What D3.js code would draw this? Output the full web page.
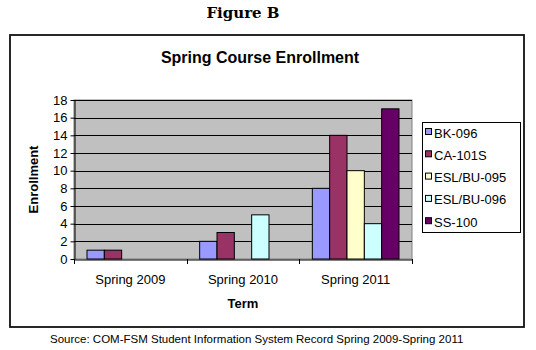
<!DOCTYPE html>
<html><head><meta charset="utf-8">
<script src="https://cdn.jsdelivr.net/npm/d3@7"></script>
<style>body{margin:0;background:#fff}svg{display:block}</style>
</head><body>
<svg id="c" width="536" height="350"></svg>
<script>
const categories = ["Spring 2009", "Spring 2010", "Spring 2011"];
const seriesNames = ["BK-096", "CA-101S", "ESL/BU-095", "ESL/BU-096", "SS-100"];
const bk096 = [1, 2, 8];
const ca101s = [1, 3, 14];
const eslbu095 = [null, null, 10];
const eslbu096 = [null, 5, 4];
const ss100 = [null, null, 17];
const yTicks = [0, 2, 4, 6, 8, 10, 12, 14, 16, 18];
const colors = ["#9999ff", "#993366", "#ffffcc", "#ccffff", "#660066"];

const seriesValues = [bk096, ca101s, eslbu095, eslbu096, ss100];
const svg = d3.select("#c");
const font = "'Liberation Sans', Arial, sans-serif";

// figure caption
svg.append("text").attr("x", 243).attr("y", 18).attr("text-anchor", "middle")
  .attr("font-family", "'DejaVu Serif', serif").attr("font-weight", "bold").attr("font-size", 15)
  .text("Figure B");

// chart frame
svg.append("rect").attr("x", 10).attr("y", 35).attr("width", 514).attr("height", 292)
  .attr("fill", "#fff").attr("stroke", "#111").attr("stroke-width", 1.8);

svg.append("text").attr("x", 260).attr("y", 63).attr("text-anchor", "middle")
  .attr("font-family", font).attr("font-weight", "bold").attr("font-size", 16)
  .text("Spring Course Enrollment");

const L = 74, R = 412, T = 100, B = 259;
const x0 = d3.scaleBand().domain(categories).range([L, R]).padding(0);
const bw = x0.bandwidth();
const unit = bw / 6.5;
const x1 = d3.scaleBand().domain(seriesNames).range([0.75 * unit, bw - 0.75 * unit]).padding(0);
const y = d3.scaleLinear().domain([0, 18]).range([B, T]);

// plot area
svg.append("rect").attr("x", L).attr("y", T).attr("width", R - L).attr("height", B - T)
  .attr("fill", "#c0c0c0").attr("stroke", "#808080").attr("stroke-width", 1);

// gridlines
svg.append("g").selectAll("line").data(yTicks.filter(d => d > 0)).join("line")
  .attr("x1", L).attr("x2", R).attr("y1", d => Math.round(y(d)) + 0.5).attr("y2", d => Math.round(y(d)) + 0.5)
  .attr("stroke", "#000").attr("stroke-width", 1);

// bars
const data = [];
categories.forEach((c, i) => seriesNames.forEach((s, j) => {
  const v = seriesValues[j][i];
  if (v != null) data.push({c, s, v, color: colors[j]});
}));
svg.append("g").selectAll("rect").data(data).join("rect")
  .attr("x", d => x0(d.c) + x1(d.s))
  .attr("y", d => y(d.v))
  .attr("width", x1.bandwidth())
  .attr("height", d => y(0) - y(d.v))
  .attr("fill", d => d.color).attr("stroke", "#000").attr("stroke-width", 1);

// y axis
const yAxis = svg.append("g").attr("transform", `translate(${L + 0.5},0)`)
  .call(d3.axisLeft(y).tickValues(yTicks).tickSize(4).tickSizeOuter(0).tickPadding(3));
yAxis.selectAll("text").attr("font-family", font).attr("font-size", 13).attr("fill", "#000");
yAxis.selectAll("line,path").attr("stroke", "#000");

// x axis
const xAxis = svg.append("g").attr("transform", `translate(0,${B + 0.5})`)
  .call(d3.axisBottom(x0).tickSize(0).tickPadding(15));
xAxis.select("path").attr("stroke", "#000");
xAxis.selectAll("text").attr("font-family", font).attr("font-size", 13).attr("fill", "#000");
const bounds = [L, R].concat(categories.slice(1).map(c => x0(c)));
svg.append("g").selectAll("line").data(bounds).join("line")
  .attr("x1", d => Math.round(d) + 0.5).attr("x2", d => Math.round(d) + 0.5)
  .attr("y1", B).attr("y2", B + 5).attr("stroke", "#000");

// axis titles
svg.append("text").attr("transform", `translate(38,${(T + B) / 2}) rotate(-90)`)
  .attr("text-anchor", "middle").attr("font-family", font).attr("font-weight", "bold").attr("font-size", 13)
  .text("Enrollment");
svg.append("text").attr("x", (L + R) / 2).attr("y", 308).attr("text-anchor", "middle")
  .attr("font-family", font).attr("font-weight", "bold").attr("font-size", 13)
  .text("Term");

// legend
const lg = svg.append("g");
lg.append("rect").attr("x", 422.5).attr("y", 122.5).attr("width", 98).attr("height", 110)
  .attr("fill", "#fff").attr("stroke", "#000");
const items = lg.selectAll("g.item").data(seriesNames).join("g")
  .attr("transform", (d, i) => `translate(425,${133 + i * 22.3})`);
items.append("rect").attr("x", 0.5).attr("y", -4.5).attr("width", 6).attr("height", 6)
  .attr("fill", (d, i) => colors[i]).attr("stroke", "#000");
items.append("text").attr("x", 9).attr("y", 4.5).attr("font-family", font).attr("font-size", 13)
  .text(d => d);

// source
svg.append("text").attr("x", 50).attr("y", 343).attr("font-family", font).attr("font-size", 11.5)
  .text("Source: COM-FSM Student Information System Record Spring 2009-Spring 2011");
</script>
</body></html>
